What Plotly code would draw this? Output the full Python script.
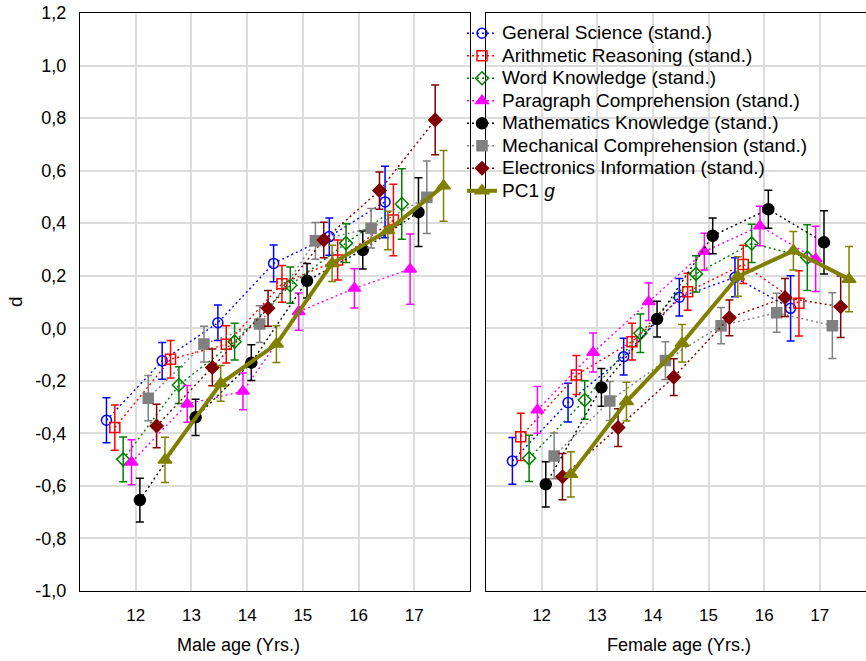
import plotly.graph_objects as go

ages = [12, 13, 14, 15, 16, 17]

series_names = [
    "General Science (stand.)",
    "Arithmetic Reasoning (stand.)",
    "Word Knowledge (stand.)",
    "Paragraph Comprehension (stand.)",
    "Mathematics Knowledge (stand.)",
    "Mechanical Comprehension (stand.)",
    "Electronics Information (stand.)",
    "PC1 <i>g</i>",
]

# Male d values and error half-widths
male_gs = [-0.350, -0.124, 0.021, 0.247, 0.349, 0.481]
male_gs_err = [0.086, 0.070, 0.068, 0.070, 0.071, 0.136]
male_ar = [-0.378, -0.118, -0.061, 0.169, 0.260, 0.412]
male_ar_err = [0.086, 0.071, 0.071, 0.070, 0.076, 0.136]
male_wk = [-0.499, -0.216, -0.051, 0.164, 0.324, 0.473]
male_wk_err = [0.085, 0.070, 0.070, 0.069, 0.074, 0.134]
male_pc = [-0.510, -0.288, -0.240, 0.063, 0.152, 0.225]
male_pc_err = [0.086, 0.070, 0.070, 0.071, 0.075, 0.134]
male_mk = [-0.654, -0.339, -0.131, 0.181, 0.298, 0.442]
male_mk_err = [0.083, 0.069, 0.068, 0.066, 0.072, 0.131]
male_mc = [-0.266, -0.060, 0.016, 0.333, 0.381, 0.499]
male_mc_err = [0.086, 0.068, 0.070, 0.070, 0.075, 0.138]
male_ei = [-0.372, -0.149, 0.076, 0.336, 0.524, 0.793]
male_ei_err = [0.083, 0.070, 0.068, 0.068, 0.071, 0.133]
male_pc1 = [-0.501, -0.210, -0.060, 0.247, 0.372, 0.542]
male_pc1_err = [0.086, 0.068, 0.070, 0.069, 0.073, 0.135]

# Female d values and error half-widths
female_gs = [-0.505, -0.283, -0.108, 0.118, 0.194, 0.076]
female_gs_err = [0.089, 0.074, 0.070, 0.071, 0.074, 0.124]
female_ar = [-0.413, -0.178, -0.051, 0.139, 0.243, 0.095]
female_ar_err = [0.090, 0.074, 0.070, 0.070, 0.073, 0.124]
female_wk = [-0.495, -0.273, -0.019, 0.207, 0.323, 0.269]
female_wk_err = [0.088, 0.073, 0.073, 0.069, 0.073, 0.125]
female_pc = [-0.311, -0.092, 0.101, 0.292, 0.389, 0.264]
female_pc_err = [0.089, 0.074, 0.071, 0.070, 0.075, 0.124]
female_mk = [-0.594, -0.225, 0.035, 0.352, 0.453, 0.327]
female_mk_err = [0.086, 0.072, 0.068, 0.068, 0.072, 0.120]
female_mc = [-0.486, -0.277, -0.123, 0.010, 0.059, 0.010]
female_mc_err = [0.087, 0.074, 0.072, 0.069, 0.074, 0.125]
female_ei = [-0.565, -0.378, -0.186, 0.040, 0.117, 0.082]
female_ei_err = [0.088, 0.072, 0.070, 0.068, 0.072, 0.117]
female_pc1 = [-0.556, -0.279, -0.057, 0.197, 0.295, 0.187]
female_pc1_err = [0.086, 0.074, 0.071, 0.075, 0.073, 0.124]

y_tickvals = [-1.0, -0.8, -0.6, -0.4, -0.2, 0.0, 0.2, 0.4, 0.6, 0.8, 1.0, 1.2]
y_ticktext = ["-1,0", "-0,8", "-0,6", "-0,4", "-0,2", "0,0", "0,2", "0,4", "0,6", "0,8", "1,0", "1,2"]
x_tickvals = [12, 13, 14, 15, 16, 17]

male_vals = [male_gs, male_ar, male_wk, male_pc, male_mk, male_mc, male_ei, male_pc1]
male_errs = [male_gs_err, male_ar_err, male_wk_err, male_pc_err, male_mk_err, male_mc_err, male_ei_err, male_pc1_err]
female_vals = [female_gs, female_ar, female_wk, female_pc, female_mk, female_mc, female_ei, female_pc1]
female_errs = [female_gs_err, female_ar_err, female_wk_err, female_pc_err, female_mk_err, female_mc_err, female_ei_err, female_pc1_err]

# styles
dodge = [-0.525, -0.375, -0.225, -0.075, 0.075, 0.225, 0.375, 0.525]
colors = ["#0000FF", "#FF0000", "#008000", "#FF00FF", "#000000", "#808080", "#800000", "#808000"]
symbols = ["circle-open", "square-open", "diamond-open", "triangle-up", "circle", "square", "diamond", "triangle-up"]
sizes = [10, 10, 10, 11, 11, 10, 10, 12]

FONT = "Liberation Sans, Arial, Helvetica, sans-serif"

fig = go.Figure()

for panel, (vals, errs) in enumerate([(male_vals, male_errs), (female_vals, female_errs)]):
    xa = "x" if panel == 0 else "x2"
    ya = "y" if panel == 0 else "y2"
    for i in range(8):
        is_pc1 = i == 7
        fig.add_trace(go.Scatter(
            x=[a + dodge[i] for a in ages],
            y=vals[i],
            mode="lines+markers",
            name=f'<span style="font-size:19px">{series_names[i]}</span>',
            showlegend=(panel == 0),
            xaxis=xa, yaxis=ya,
            line=dict(color=colors[i], width=4 if is_pc1 else 1.4,
                      dash="solid" if is_pc1 else "2px,3px"),
            marker=dict(symbol=symbols[i], size=sizes[i], color=colors[i],
                        line=dict(color=colors[i], width=1.5)),
            error_y=dict(type="data", array=errs[i], visible=True,
                         color=colors[i], thickness=1.5, width=4),
        ))

axis_common = dict(
    showgrid=True, gridcolor="#DCDCDC", gridwidth=1.5,
    showline=True, linecolor="black", linewidth=1,
    zeroline=False, ticks="",
)

fig.update_layout(
    width=866, height=661,
    margin=dict(l=80, r=0, t=13, b=70),
    plot_bgcolor="white", paper_bgcolor="white",
    font=dict(family=FONT, size=16, color="black"),
    xaxis=dict(domain=[0, 0.4962], range=[11, 18], tickvals=x_tickvals,
               mirror=True, ticklabelstandoff=9,
               tickfont=dict(family=FONT, size=17, color="black"), **axis_common),
    xaxis2=dict(domain=[0.5165, 1], range=[11, 17.83], tickvals=x_tickvals,
                mirror=True, ticklabelstandoff=9, anchor="y2",
                tickfont=dict(family=FONT, size=17, color="black"), **axis_common),
    yaxis=dict(domain=[0, 1], range=[-1.0, 1.2], tickvals=y_tickvals, ticktext=y_ticktext,
               mirror=True, ticklabelstandoff=9,
               tickfont=dict(family=FONT, size=18, color="black"), **axis_common),
    yaxis2=dict(domain=[0, 1], range=[-1.0, 1.2], tickvals=y_tickvals, showticklabels=False,
                mirror=False, anchor="x2", **axis_common),
    legend=dict(x=0.486, y=0.993, xanchor="left", yanchor="top",
                bgcolor="rgba(0,0,0,0)", borderwidth=0,
                font=dict(family=FONT, size=15, color="black"),
                traceorder="normal"),
    showlegend=True,
    annotations=[
        dict(text="Male age (Yrs.)", xref="paper", yref="paper",
             x=(238 - 80) / 786, y=-(645 - 591) / 578, showarrow=False,
             xanchor="center", yanchor="middle", font=dict(family=FONT, size=18)),
        dict(text="Female age (Yrs.)", xref="paper", yref="paper",
             x=(679 - 80) / 786, y=-(645 - 591) / 578, showarrow=False,
             xanchor="center", yanchor="middle", font=dict(family=FONT, size=18)),
        dict(text="d", xref="paper", yref="paper",
             x=(15 - 80) / 786, y=0.5, showarrow=False, textangle=-90,
             xanchor="center", yanchor="middle", font=dict(family=FONT, size=19)),
    ],
)

fig.write_html("out.html")
